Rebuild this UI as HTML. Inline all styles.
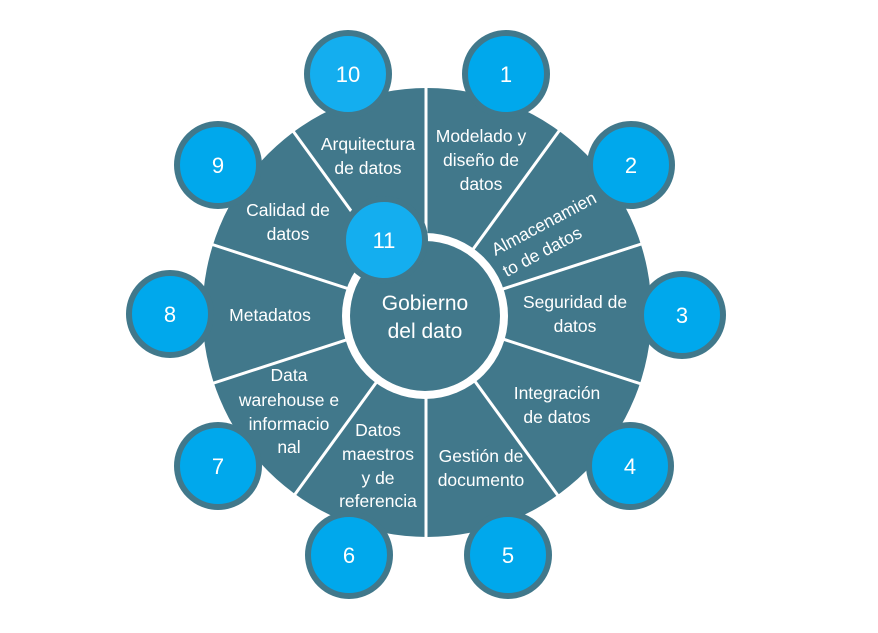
<!DOCTYPE html>
<html><head><meta charset="utf-8"><style>
html,body{margin:0;padding:0;background:#fff;}
svg{display:block;}
text{font-family:"Liberation Sans",sans-serif;fill:#fff;}
</style></head><body>
<svg width="878" height="633" viewBox="0 0 878 633" xmlns="http://www.w3.org/2000/svg">
<rect width="878" height="633" fill="#fff"/>
<circle cx="427" cy="312.5" r="224.5" fill="#41788B"/>
<g stroke="#fff" stroke-width="3">
<line x1="426" y1="314" x2="426" y2="84"/>
<line x1="426" y1="314" x2="560" y2="129.6"/>
<line x1="426" y1="314" x2="642.8" y2="243.5"/>
<line x1="426" y1="314" x2="642.8" y2="384.5"/>
<line x1="426" y1="314" x2="560" y2="498.4"/>
<line x1="426" y1="314" x2="426" y2="544"/>
<line x1="426" y1="314" x2="292" y2="498.4"/>
<line x1="426" y1="314" x2="209.2" y2="384.5"/>
<line x1="426" y1="314" x2="209.2" y2="243.5"/>
<line x1="426" y1="314" x2="292" y2="129.6"/>
</g>
<circle cx="425" cy="316" r="83" fill="#fff"/>
<circle cx="425" cy="316" r="75" fill="#41788B"/>
<g stroke="#41788B" stroke-width="6">
<circle cx="384" cy="240" r="41" fill="#14AEEF"/>
<circle cx="506" cy="74" r="41" fill="#00A8EC"/>
<circle cx="631" cy="165" r="41" fill="#00A8EC"/>
<circle cx="682" cy="315" r="41" fill="#00A8EC"/>
<circle cx="630" cy="466" r="41" fill="#00A8EC"/>
<circle cx="508" cy="555" r="41" fill="#00A8EC"/>
<circle cx="349" cy="555" r="41" fill="#00A8EC"/>
<circle cx="218" cy="466" r="41" fill="#00A8EC"/>
<circle cx="170" cy="314" r="41" fill="#00A8EC"/>
<circle cx="218" cy="165" r="41" fill="#00A8EC"/>
<circle cx="348" cy="74" r="41" fill="#14AEEF"/>
</g>
<g font-size="22" text-anchor="middle">
<text x="384" y="248">11</text>
<text x="506" y="82">1</text>
<text x="631" y="173">2</text>
<text x="682" y="323">3</text>
<text x="630" y="474">4</text>
<text x="508" y="563">5</text>
<text x="349" y="563">6</text>
<text x="218" y="474">7</text>
<text x="170" y="322">8</text>
<text x="218" y="173">9</text>
<text x="348" y="82">10</text>
</g>
<g font-size="21" text-anchor="middle">
<text x="425" y="310">Gobierno</text>
<text x="425" y="338">del dato</text>
</g>
<g transform="translate(495.5,256) rotate(-28)" font-size="17.5">
<text x="0" y="0">Almacenamien</text>
<text x="0" y="24">to de datos</text>
</g>
<g font-size="17.5" text-anchor="middle">
<text x="368" y="150">Arquitectura</text>
<text x="368" y="174">de datos</text>
<text x="481" y="142">Modelado y</text>
<text x="481" y="166">diseño de</text>
<text x="481" y="190">datos</text>
<text x="575" y="308">Seguridad de</text>
<text x="575" y="332">datos</text>
<text x="557" y="399">Integración</text>
<text x="557" y="423">de datos</text>
<text x="481" y="462">Gestión de</text>
<text x="481" y="486">documento</text>
<text x="378" y="436">Datos</text>
<text x="378" y="460">maestros</text>
<text x="378" y="484">y de</text>
<text x="378" y="507">referencia</text>
<text x="289" y="381">Data</text>
<text x="289" y="406">warehouse e</text>
<text x="289" y="430">informacio</text>
<text x="289" y="453">nal</text>
<text x="270" y="321">Metadatos</text>
<text x="288" y="216">Calidad de</text>
<text x="288" y="240">datos</text>
</g>
</svg>
</body></html>
